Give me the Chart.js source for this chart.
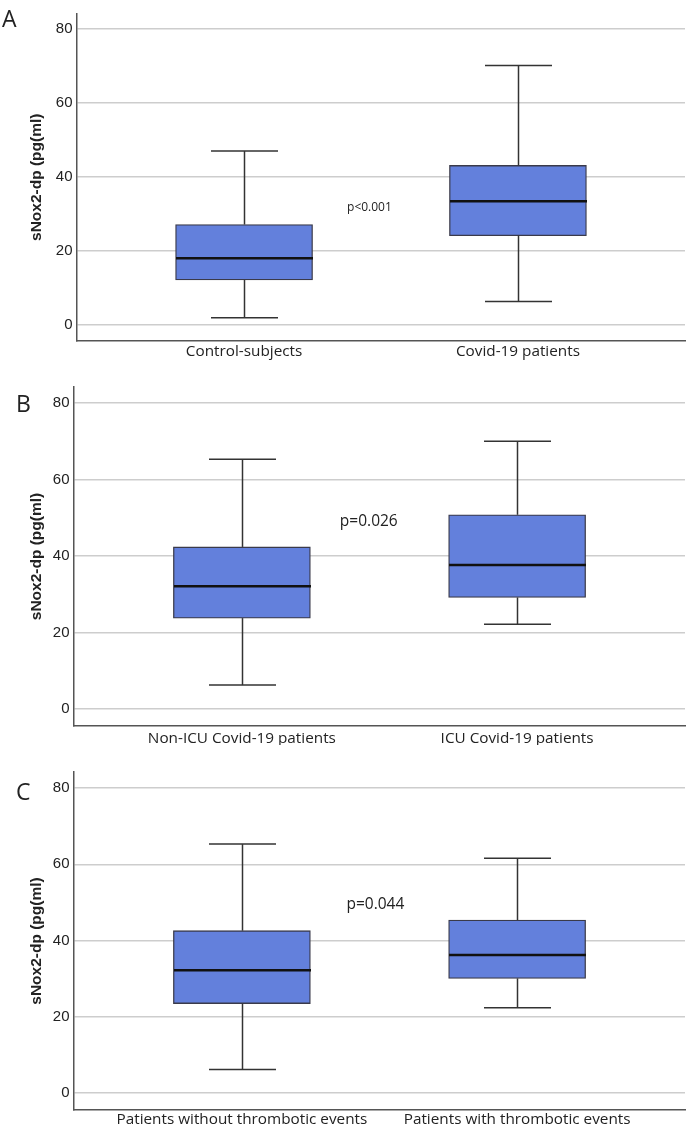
<!DOCTYPE html>
<html>
<head>
<meta charset="utf-8">
<script src="https://cdn.jsdelivr.net/npm/chart.js@4.4.1/dist/chart.umd.min.js"></script>
<style>
body { margin: 0; background: #fff; width: 688px; height: 1125px; position: relative; overflow: hidden; }
canvas { position: absolute; left: 0; }
.letter { position: absolute; font-family: 'Open Sans', sans-serif; font-size: 23px; color: #222; line-height: 1; }
</style>
</head>
<body>
<canvas id="chartA" width="688" height="360" style="top:0px"></canvas>
<canvas id="chartB" width="688" height="385" style="top:360px"></canvas>
<canvas id="chartC" width="688" height="380" style="top:745px"></canvas>
<div class="letter" style="left:2px;top:7px">A</div>
<div class="letter" style="left:16px;top:392px">B</div>
<div class="letter" style="left:16px;top:780px">C</div>
<script>
// shared axis
const yTicks = [0, 20, 40, 60, 80];
const yTitle = 'sNox2-dp (pg(ml)';

// panel A
const groupsA = ['Control-subjects', 'Covid-19 patients'];
const minA = [1.9, 6.3];
const q1A = [12.1, 24.1];
const medA = [18.0, 33.4];
const q3A = [27.1, 43.1];
const maxA = [47.0, 70.1];

// panel B
const groupsB = ['Non-ICU Covid-19 patients', 'ICU Covid-19 patients'];
const minB = [6.3, 22.2];
const q1B = [23.8, 29.2];
const medB = [32.1, 37.7];
const q3B = [42.4, 50.8];
const maxB = [65.3, 70.0];

// panel C
const groupsC = ['Patients without thrombotic events', 'Patients with thrombotic events'];
const minC = [6.2, 22.4];
const q1C = [23.5, 30.1];
const medC = [32.2, 36.2];
const q3C = [42.6, 45.4];
const maxC = [65.3, 61.6];

const pTexts = ['p<0.001', 'p=0.026', 'p=0.044'];

function boxPanel(canvasId, labels, mins, q1s, meds, q3s, maxs, pText, look) {
    const boxW = 137;
    const capHalf = 33.5;

    // whiskers, caps, median and the p label
    const whiskers = {
        id: 'whiskers',
        afterDatasetsDraw(chart) {
            const { ctx, scales: { x, y } } = chart;
            const line = (x1, y1, x2, y2) => {
                ctx.beginPath();
                ctx.moveTo(x1, y1);
                ctx.lineTo(x2, y2);
                ctx.stroke();
            };
            ctx.save();
            labels.forEach((l, i) => {
                const cx = Math.round(x.getPixelForValue(i)) + 0.5;
                const yMin = y.getPixelForValue(mins[i]);
                const yMax = y.getPixelForValue(maxs[i]);
                ctx.strokeStyle = '#333';
                ctx.lineWidth = 1.5;
                line(cx, y.getPixelForValue(q3s[i]), cx, yMax);
                line(cx, y.getPixelForValue(q1s[i]), cx, yMin);
                line(cx - capHalf, yMax, cx + capHalf, yMax);
                line(cx - capHalf, yMin, cx + capHalf, yMin);
                ctx.strokeStyle = '#111';
                ctx.lineWidth = 2.5;
                const yMed = y.getPixelForValue(meds[i]);
                line(cx - boxW / 2, yMed, cx + boxW / 2, yMed);
            });
            ctx.fillStyle = '#222';
            ctx.font = look.pSize + 'px "Open Sans", sans-serif';
            ctx.textAlign = 'left';
            ctx.textBaseline = 'middle';
            ctx.fillText(pText, x.getPixelForValue(look.pX), y.getPixelForValue(look.pY));
            ctx.restore();
        }
    };

    const ctx = document.getElementById(canvasId).getContext('2d');
    new Chart(ctx, {
        type: 'bar',
        data: {
            datasets: [{
                data: labels.map((l, i) => ({ x: i, y: [q1s[i], q3s[i]] })),
                backgroundColor: '#6380dc',
                borderColor: '#3a3a4a',
                borderWidth: 1.3,
                borderSkipped: false,
                barThickness: boxW
            }]
        },
        options: {
            responsive: false,
            animation: false,
            layout: { padding: { top: look.padTop, right: 3, left: 0, bottom: 0 } },
            plugins: {
                legend: { display: false },
                tooltip: { enabled: false }
            },
            scales: {
                x: {
                    type: 'linear',
                    min: -0.61,
                    max: 1.61,
                    offset: false,
                    grid: { display: false, drawTicks: false, offset: false },
                    border: { display: true, color: '#555', width: 1.5 },
                    afterBuildTicks: s => { s.ticks = labels.map((l, i) => ({ value: i })); },
                    afterFit: s => { s.height = look.xHeight; },
                    ticks: {
                        callback: v => labels[v],
                        padding: look.xPad,
                        maxRotation: 0,
                        autoSkip: false,
                        color: '#222',
                        font: { family: 'Open Sans', size: 15.3 }
                    }
                },
                y: {
                    min: -4.4,
                    max: 84.2,
                    afterBuildTicks: s => { s.ticks = yTicks.map(v => ({ value: v })); },
                    afterFit: s => { s.width = look.yWidth; },
                    grid: { color: '#cdcdcd', lineWidth: 1.5, drawTicks: false },
                    border: { display: true, color: '#555', width: 1.5 },
                    ticks: {
                        padding: 4.5,
                        color: '#222',
                        font: { family: 'Liberation Sans', size: 15 }
                    },
                    title: {
                        display: true,
                        text: yTitle,
                        color: '#222',
                        font: { family: 'Liberation Sans', size: 15.5, weight: 'bold' },
                        padding: { top: 27.5, bottom: 0 }
                    }
                }
            }
        },
        plugins: [whiskers]
    });
}

boxPanel('chartA', groupsA, minA, q1A, medA, q3A, maxA, pTexts[0],
    { padTop: 3, xHeight: 19, xPad: 1.5, yWidth: 77, pSize: 12, pX: 0.376, pY: 31.8 });
boxPanel('chartB', groupsB, minB, q1B, medB, q3B, maxB, pTexts[1],
    { padTop: 27, xHeight: 19, xPad: 3.8, yWidth: 74, pSize: 15.5, pX: 0.356, pY: 49.0 });
boxPanel('chartC', groupsC, minC, q1C, medC, q3C, maxC, pTexts[2],
    { padTop: 27, xHeight: 15, xPad: 0, yWidth: 74, pSize: 15.5, pX: 0.38, pY: 49.4 });
</script>
</body>
</html>
